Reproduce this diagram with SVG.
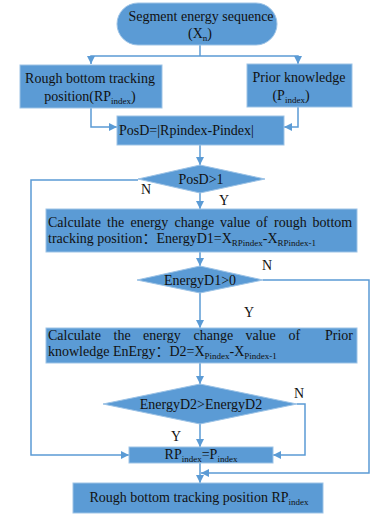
<svg xmlns="http://www.w3.org/2000/svg" width="377" height="514" viewBox="0 0 377 514">
<style>
.box{fill:#5B9BD5;stroke:#9DC3E6;stroke-width:1}
.t{font-family:"Liberation Serif","Times New Roman","Noto Sans CJK SC",serif;font-size:14px;fill:#111}
.c{text-anchor:middle}
.sub{font-size:9px}
.con{fill:none;stroke:#5B9BD5;stroke-width:1.5}
</style>
<defs>
<marker id="ah" viewBox="0 0 10 10" refX="10" refY="5" markerWidth="8" markerHeight="8" markerUnits="userSpaceOnUse" orient="auto">
<path d="M0,0 L10,5 L0,10 Z" fill="#5B9BD5"/>
</marker>
</defs>
<g id="connectors">
<path class="con" d="M200,45 V56"/>
<path class="con" d="M200,56 H91 V64" marker-end="url(#ah)"/>
<path class="con" d="M200,56 H298 V64" marker-end="url(#ah)"/>
<path class="con" d="M91,108 V127 H117" marker-end="url(#ah)"/>
<path class="con" d="M298,107 V127 H284" marker-end="url(#ah)"/>
<path class="con" d="M200,145 V165" marker-end="url(#ah)"/>
<path class="con" d="M138,180 H31 V455 H129" marker-end="url(#ah)"/>
<path class="con" d="M200,193 V209" marker-end="url(#ah)"/>
<path class="con" d="M200,252 V266" marker-end="url(#ah)"/>
<path class="con" d="M263,280 H369 V473 H201" marker-end="url(#ah)"/>
<path class="con" d="M200,293 V328" marker-end="url(#ah)"/>
<path class="con" d="M200,363 V384" marker-end="url(#ah)"/>
<path class="con" d="M297,404 H305 V455 H273" marker-end="url(#ah)"/>
<path class="con" d="M200,424 V447" marker-end="url(#ah)"/>
<path class="con" d="M200,463 V483" marker-end="url(#ah)"/>
<text class="t c" x="146" y="194">N</text>
<text class="t c" x="224" y="205">Y</text>
<text class="t c" x="267" y="270">N</text>
<text class="t c" x="249" y="317">Y</text>
<text class="t c" x="299" y="398">N</text>
<text class="t c" x="176" y="441">Y</text>
</g>
<g id="start">
<rect class="box" x="117" y="3" width="160" height="42" rx="21"/>
<text class="t c" x="201" y="21">Segment energy sequence</text>
<text class="t c" x="200" y="38">(X<tspan class="sub" dy="3">n</tspan><tspan dy="-3">)</tspan></text>
</g>
<g id="rough">
<rect class="box" x="20" y="65" width="142" height="43"/>
<text class="t c" x="90" y="83">Rough bottom tracking</text>
<text class="t c" x="90" y="101">position(RP<tspan class="sub" dy="3">index</tspan><tspan dy="-3">)</tspan></text>
</g>
<g id="prior">
<rect class="box" x="247" y="64" width="105" height="43"/>
<text class="t c" x="299" y="82">Prior knowledge</text>
<text class="t c" x="291" y="100">(P<tspan class="sub" dy="3">index</tspan><tspan dy="-3">)</tspan></text>
</g>
<g id="posd">
<rect class="box" x="117" y="116" width="167" height="29"/>
<text class="t" x="119" y="135">PosD=|Rpindex-Pindex|</text>
</g>
<g id="d1">
<polygon class="box" points="200,165 265,179 200,193 138,179"/>
<text class="t c" x="201" y="184">PosD&gt;1</text>
</g>
<g id="calc1">
<rect class="box" x="46" y="209" width="311" height="43"/>
<text class="t" y="227"><tspan x="48">Calculate</tspan><tspan x="107">the</tspan><tspan x="130.5">energy</tspan><tspan x="174.5">change</tspan><tspan x="220">value</tspan><tspan x="256">of</tspan><tspan x="274">rough</tspan><tspan x="312.5">bottom</tspan></text>
<text class="t" x="48" y="243">tracking position：EnergyD1=X<tspan class="sub" dy="3">RPindex</tspan><tspan dy="-3">-X</tspan><tspan class="sub" dy="3">RPindex-1</tspan></text>
</g>
<g id="d2">
<polygon class="box" points="200,266 263,280 200,293 137,280"/>
<text class="t c" x="200" y="285">EnergyD1&gt;0</text>
</g>
<g id="calc2">
<rect class="box" x="46" y="328" width="311" height="35"/>
<text class="t" y="340"><tspan x="48">Calculate</tspan><tspan x="113.5">the</tspan><tspan x="143">energy</tspan><tspan x="193.5">change</tspan><tspan x="245.5">value</tspan><tspan x="288.5">of</tspan><tspan x="325">Prior</tspan></text>
<text class="t" x="48" y="356">knowledge EnErgy：D2=X<tspan class="sub" dy="3">Pindex</tspan><tspan dy="-3">-X</tspan><tspan class="sub" dy="3">Pindex-1</tspan></text>
</g>
<g id="d3">
<polygon class="box" points="200,384 297,404 200,424 103,404"/>
<text class="t c" x="201" y="409">EnergyD2&gt;EnergyD2</text>
</g>
<g id="assign">
<rect class="box" x="129" y="447" width="144" height="16"/>
<text class="t c" x="201" y="459">RP<tspan class="sub" dy="3">index</tspan><tspan dy="-3">=P</tspan><tspan class="sub" dy="3">index</tspan></text>
</g>
<g id="end">
<rect class="box" x="73" y="483" width="250" height="30"/>
<text class="t c" x="199" y="502">Rough bottom tracking position RP<tspan class="sub" dy="3">index</tspan></text>
</g>
</svg>
